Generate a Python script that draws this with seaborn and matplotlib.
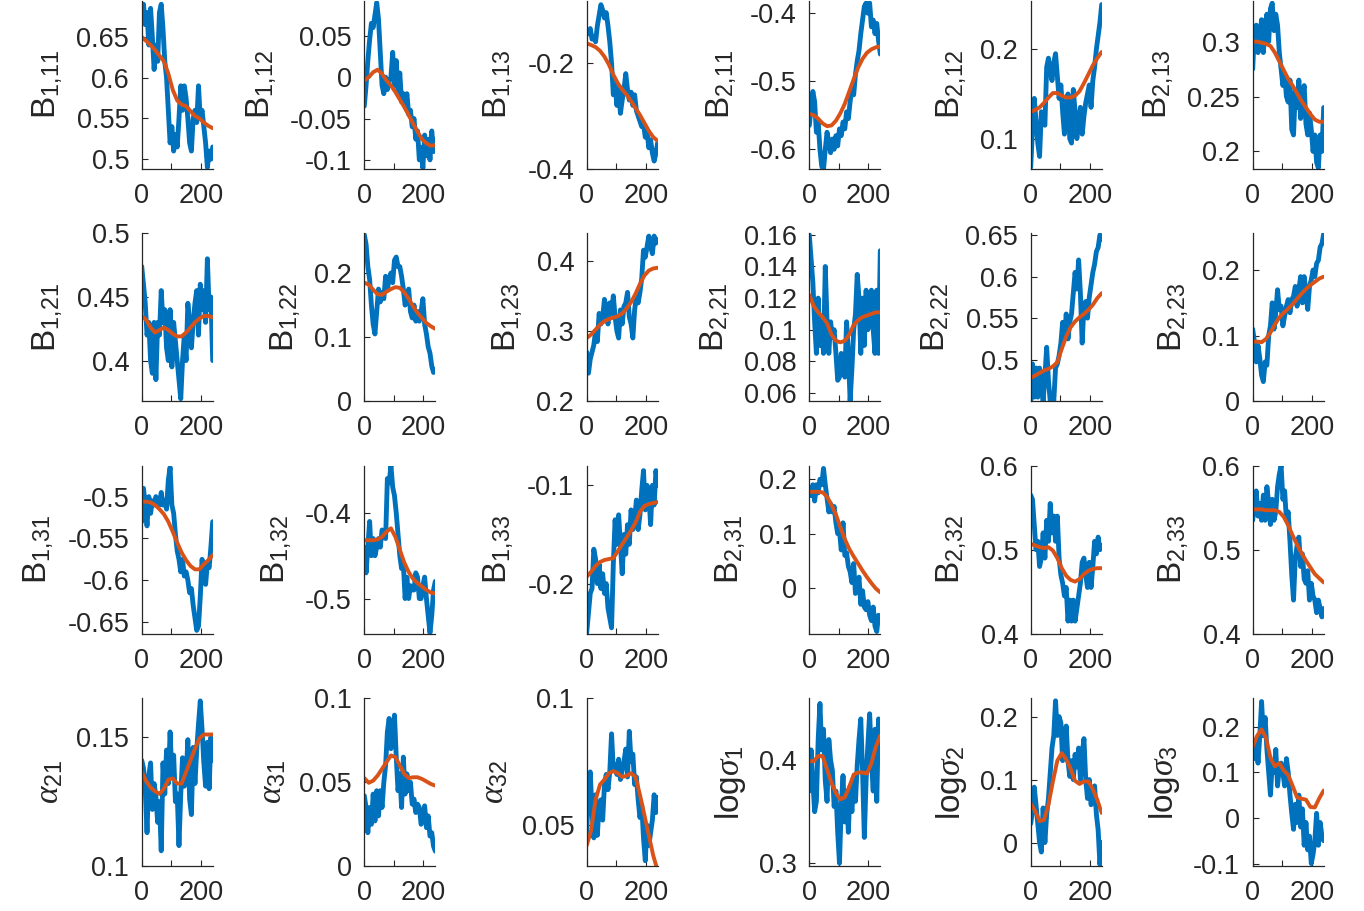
import matplotlib
matplotlib.use('Agg')
import matplotlib.pyplot as plt
import seaborn as sns

# ---------------- data ----------------
x_est = list(range(0, 241, 6))      # 41 samples of the noisy (blue) series
x_smooth = list(range(0, 241, 15))  # 17 samples of the smooth (orange) series

labels = [r'$\mathrm{B}_{1{,}11}$', r'$\mathrm{B}_{1{,}12}$', r'$\mathrm{B}_{1{,}13}$',
          r'$\mathrm{B}_{2{,}11}$', r'$\mathrm{B}_{2{,}12}$', r'$\mathrm{B}_{2{,}13}$',
          r'$\mathrm{B}_{1{,}21}$', r'$\mathrm{B}_{1{,}22}$', r'$\mathrm{B}_{1{,}23}$',
          r'$\mathrm{B}_{2{,}21}$', r'$\mathrm{B}_{2{,}22}$', r'$\mathrm{B}_{2{,}23}$',
          r'$\mathrm{B}_{1{,}31}$', r'$\mathrm{B}_{1{,}32}$', r'$\mathrm{B}_{1{,}33}$',
          r'$\mathrm{B}_{2{,}31}$', r'$\mathrm{B}_{2{,}32}$', r'$\mathrm{B}_{2{,}33}$',
          r'$\alpha_{21}$', r'$\alpha_{31}$', r'$\alpha_{32}$',
          r'$\mathrm{log}\sigma_1$', r'$\mathrm{log}\sigma_2$', r'$\mathrm{log}\sigma_3$']

ylims = [(0.488, 0.694), (-0.111, 0.092), (-0.4, -0.083), (-0.629, -0.382), (0.066, 0.254), (0.184, 0.337),
         (0.368, 0.5), (0.0, 0.262), (0.2, 0.439), (0.0547, 0.161), (0.45, 0.652), (0.0, 0.256),
         (-0.664, -0.463), (-0.541, -0.345), (-0.251, -0.080), (-0.084, 0.225), (0.4, 0.6), (0.4, 0.6),
         (0.1, 0.165), (0.0, 0.1), (0.0338, 0.1), (0.297, 0.46), (-0.0377, 0.229), (-0.106, 0.262)]

yticks = [[0.5, 0.55, 0.6, 0.65], [-0.1, -0.05, 0, 0.05], [-0.4, -0.2], [-0.6, -0.5, -0.4], [0.1, 0.2], [0.2, 0.25, 0.3],
          [0.4, 0.45, 0.5], [0, 0.1, 0.2], [0.2, 0.3, 0.4], [0.06, 0.08, 0.1, 0.12, 0.14, 0.16], [0.5, 0.55, 0.6, 0.65], [0, 0.1, 0.2],
          [-0.65, -0.6, -0.55, -0.5], [-0.5, -0.4], [-0.2, -0.1], [0, 0.1, 0.2], [0.4, 0.5, 0.6], [0.4, 0.5, 0.6],
          [0.1, 0.15], [0, 0.05, 0.1], [0.05, 0.1], [0.3, 0.4], [0, 0.1, 0.2], [-0.1, 0, 0.1, 0.2]]

xticks = [0, 100, 200]
xticklabels = ['0', '', '200']

est_B1_11 = [0.68, 0.69, 0.665, 0.68, 0.64, 0.685, 0.65, 0.61, 0.64, 0.62, 0.68, 0.69, 0.66, 0.62, 0.60, 0.56, 0.52, 0.54, 0.51, 0.53, 0.515,
             0.55, 0.59, 0.56, 0.59, 0.575, 0.55, 0.52, 0.51, 0.55, 0.56, 0.545, 0.59, 0.55, 0.56, 0.54, 0.52, 0.49, 0.51, 0.50, 0.515]
smo_B1_11 = [0.650, 0.645, 0.640, 0.634, 0.627, 0.620, 0.605, 0.585, 0.572, 0.567, 0.565, 0.559, 0.553, 0.550, 0.545, 0.541, 0.538]

est_B1_12 = [-0.035, -0.01, 0.02, 0.045, 0.065, 0.06, 0.075, 0.09, 0.07, 0.03, -0.01, -0.02, 0.0, -0.015, -0.005, 0.0, 0.03, -0.01, 0.02, -0.02, 0.005,
             -0.03, -0.02, -0.035, -0.02, -0.045, -0.04, -0.06, -0.05, -0.075, -0.065, -0.1, -0.085, -0.11, -0.07, -0.095, -0.075, -0.1, -0.065, -0.09, -0.075]
smo_B1_12 = [-0.004, 0.0, 0.006, 0.009, 0.004, -0.004, -0.01, -0.018, -0.027, -0.036, -0.046, -0.056, -0.066, -0.075, -0.08, -0.083, -0.082]

est_B1_13 = [-0.14, -0.145, -0.135, -0.155, -0.15, -0.16, -0.13, -0.11, -0.09, -0.1, -0.115, -0.105, -0.13, -0.16, -0.2, -0.26, -0.24, -0.28, -0.25, -0.295, -0.27,
             -0.25, -0.22, -0.25, -0.27, -0.255, -0.28, -0.26, -0.29, -0.3, -0.31, -0.32, -0.315, -0.34, -0.33, -0.36, -0.345, -0.37, -0.385, -0.37, -0.35]
smo_B1_13 = [-0.163, -0.166, -0.17, -0.177, -0.188, -0.203, -0.222, -0.238, -0.25, -0.26, -0.272, -0.285, -0.298, -0.313, -0.328, -0.34, -0.347]

est_B2_11 = [-0.565, -0.54, -0.515, -0.53, -0.575, -0.56, -0.6, -0.625, -0.63, -0.6, -0.575, -0.59, -0.605, -0.585, -0.6, -0.58, -0.595, -0.57, -0.58, -0.56, -0.57,
             -0.545, -0.555, -0.53, -0.51, -0.52, -0.49, -0.47, -0.455, -0.43, -0.41, -0.39, -0.385, -0.4, -0.385, -0.42, -0.41, -0.43, -0.415, -0.44, -0.46]
smo_B2_11 = [-0.548, -0.55, -0.555, -0.562, -0.566, -0.565, -0.558, -0.547, -0.533, -0.515, -0.497, -0.48, -0.467, -0.458, -0.453, -0.45, -0.449]

est_B2_12 = [0.068, 0.11, 0.145, 0.12, 0.095, 0.08, 0.13, 0.12, 0.115, 0.18, 0.19, 0.175, 0.165, 0.185, 0.195, 0.17, 0.145, 0.16, 0.13, 0.105, 0.14,
             0.15, 0.1, 0.095, 0.155, 0.13, 0.1, 0.12, 0.135, 0.105, 0.125, 0.14, 0.15, 0.16, 0.135, 0.165, 0.18, 0.2, 0.215, 0.23, 0.25]
smo_B2_12 = [0.13, 0.132, 0.135, 0.14, 0.146, 0.151, 0.151, 0.148, 0.146, 0.146, 0.148, 0.153, 0.162, 0.172, 0.182, 0.19, 0.197]

est_B2_13 = [0.275, 0.31, 0.315, 0.29, 0.305, 0.32, 0.29, 0.315, 0.325, 0.3, 0.33, 0.335, 0.31, 0.325, 0.315, 0.29, 0.275, 0.26, 0.27, 0.25, 0.245,
             0.265, 0.22, 0.215, 0.255, 0.24, 0.265, 0.23, 0.25, 0.26, 0.225, 0.215, 0.235, 0.22, 0.2, 0.215, 0.19, 0.185, 0.215, 0.2, 0.24]
smo_B2_13 = [0.30, 0.30, 0.299, 0.298, 0.296, 0.29, 0.282, 0.274, 0.266, 0.26, 0.253, 0.246, 0.24, 0.234, 0.229, 0.227, 0.227]

est_B1_21 = [0.474, 0.46, 0.445, 0.42, 0.43, 0.40, 0.39, 0.43, 0.385, 0.43, 0.42, 0.455, 0.43, 0.44, 0.41, 0.40, 0.44, 0.395, 0.43, 0.415, 0.40,
             0.385, 0.37, 0.40, 0.42, 0.40, 0.445, 0.43, 0.41, 0.43, 0.445, 0.455, 0.42, 0.46, 0.44, 0.455, 0.43, 0.48, 0.44, 0.45, 0.40]
smo_B1_21 = [0.435, 0.432, 0.426, 0.422, 0.424, 0.426, 0.424, 0.421, 0.419, 0.419, 0.422, 0.426, 0.43, 0.433, 0.435, 0.435, 0.434]

est_B1_22 = [0.26, 0.245, 0.21, 0.19, 0.15, 0.12, 0.105, 0.14, 0.175, 0.155, 0.17, 0.16, 0.195, 0.175, 0.19, 0.2, 0.185, 0.22, 0.225, 0.21, 0.21,
             0.195, 0.175, 0.15, 0.165, 0.175, 0.14, 0.13, 0.15, 0.125, 0.14, 0.125, 0.14, 0.16, 0.12, 0.105, 0.085, 0.075, 0.055, 0.045, 0.05]
smo_B1_22 = [0.185, 0.182, 0.174, 0.167, 0.166, 0.171, 0.175, 0.178, 0.177, 0.17, 0.16, 0.148, 0.138, 0.13, 0.122, 0.117, 0.113]

est_B1_23 = [0.27, 0.24, 0.26, 0.27, 0.28, 0.30, 0.285, 0.325, 0.31, 0.32, 0.345, 0.33, 0.31, 0.34, 0.325, 0.35, 0.32, 0.30, 0.29, 0.33, 0.31,
             0.335, 0.34, 0.355, 0.32, 0.31, 0.29, 0.33, 0.35, 0.34, 0.355, 0.375, 0.415, 0.405, 0.42, 0.435, 0.42, 0.41, 0.435, 0.425, 0.43]
smo_B1_23 = [0.29, 0.295, 0.302, 0.309, 0.314, 0.317, 0.319, 0.321, 0.325, 0.332, 0.341, 0.353, 0.367, 0.379, 0.386, 0.389, 0.39]

est_B2_21 = [0.16, 0.145, 0.13, 0.105, 0.085, 0.12, 0.09, 0.105, 0.085, 0.14, 0.105, 0.085, 0.105, 0.095, 0.1, 0.085, 0.068, 0.07, 0.085, 0.075, 0.07,
             0.105, 0.085, 0.055, 0.075, 0.1, 0.11, 0.135, 0.12, 0.085, 0.12, 0.09, 0.125, 0.1, 0.12, 0.125, 0.1, 0.085, 0.125, 0.085, 0.15]
smo_B2_21 = [0.122, 0.115, 0.111, 0.108, 0.104, 0.097, 0.093, 0.092, 0.093, 0.097, 0.103, 0.106, 0.108, 0.109, 0.11, 0.111, 0.111]

est_B2_22 = [0.45, 0.495, 0.455, 0.49, 0.455, 0.49, 0.47, 0.45, 0.48, 0.515, 0.475, 0.45, 0.455, 0.45, 0.49, 0.495, 0.505, 0.52, 0.545, 0.525, 0.555,
             0.525, 0.545, 0.555, 0.58, 0.605, 0.585, 0.62, 0.58, 0.52, 0.565, 0.57, 0.55, 0.575, 0.59, 0.605, 0.615, 0.63, 0.635, 0.65, 0.645]
smo_B2_22 = [0.478, 0.481, 0.484, 0.487, 0.489, 0.492, 0.497, 0.513, 0.528, 0.539, 0.546, 0.551, 0.555, 0.56, 0.566, 0.574, 0.58]

est_B2_23 = [0.11, 0.09, 0.06, 0.085, 0.065, 0.04, 0.03, 0.06, 0.055, 0.1, 0.115, 0.15, 0.11, 0.135, 0.17, 0.14, 0.145, 0.115, 0.13, 0.145, 0.155,
             0.135, 0.155, 0.16, 0.175, 0.145, 0.17, 0.19, 0.15, 0.19, 0.165, 0.14, 0.175, 0.185, 0.2, 0.19, 0.21, 0.215, 0.235, 0.24, 0.255]
smo_B2_23 = [0.091, 0.091, 0.09, 0.095, 0.105, 0.117, 0.128, 0.135, 0.141, 0.148, 0.156, 0.164, 0.171, 0.177, 0.182, 0.187, 0.19]

est_B1_31 = [-0.53, -0.49, -0.51, -0.535, -0.50, -0.52, -0.505, -0.51, -0.50, -0.505, -0.51, -0.495, -0.51, -0.505, -0.515, -0.48, -0.465, -0.51, -0.52, -0.545, -0.565,
             -0.575, -0.59, -0.575, -0.595, -0.59, -0.6, -0.615, -0.61, -0.63, -0.645, -0.66, -0.655, -0.62, -0.575, -0.59, -0.605, -0.58, -0.585, -0.56, -0.53]
smo_B1_31 = [-0.506, -0.506, -0.507, -0.51, -0.515, -0.521, -0.53, -0.542, -0.555, -0.567, -0.576, -0.583, -0.587, -0.587, -0.581, -0.576, -0.57]

est_B1_32 = [-0.44, -0.47, -0.44, -0.41, -0.45, -0.43, -0.45, -0.44, -0.43, -0.44, -0.42, -0.425, -0.43, -0.36, -0.365, -0.345, -0.37, -0.38, -0.4, -0.425, -0.45,
             -0.465, -0.46, -0.5, -0.475, -0.5, -0.485, -0.49, -0.49, -0.47, -0.475, -0.5, -0.5, -0.485, -0.475, -0.5, -0.52, -0.54, -0.52, -0.49, -0.48]
smo_B1_32 = [-0.432, -0.432, -0.432, -0.431, -0.428, -0.422, -0.418, -0.428, -0.443, -0.458, -0.469, -0.477, -0.482, -0.486, -0.49, -0.493, -0.494]

est_B1_33 = [-0.25, -0.23, -0.21, -0.205, -0.165, -0.175, -0.2, -0.18, -0.205, -0.19, -0.21, -0.2, -0.225, -0.235, -0.245, -0.18, -0.135, -0.16, -0.13, -0.16, -0.19,
             -0.15, -0.17, -0.14, -0.16, -0.125, -0.145, -0.135, -0.115, -0.145, -0.13, -0.105, -0.085, -0.125, -0.1, -0.11, -0.14, -0.1, -0.12, -0.085, -0.1]
smo_B1_33 = [-0.193, -0.188, -0.182, -0.178, -0.176, -0.175, -0.174, -0.167, -0.16, -0.153, -0.146, -0.138, -0.127, -0.121, -0.119, -0.118, -0.117]

est_B2_31 = [0.185, 0.17, 0.19, 0.16, 0.19, 0.175, 0.2, 0.19, 0.22, 0.19, 0.165, 0.14, 0.155, 0.14, 0.15, 0.12, 0.1, 0.105, 0.07, 0.12, 0.06,
             0.065, 0.04, 0.03, 0.01, 0.045, -0.01, 0.0, 0.02, -0.03, -0.005, -0.035, -0.04, -0.025, -0.05, -0.06, -0.035, -0.07, -0.08, -0.05, -0.055]
smo_B2_31 = [0.177, 0.177, 0.177, 0.176, 0.168, 0.153, 0.135, 0.112, 0.09, 0.072, 0.058, 0.045, 0.032, 0.02, 0.009, -0.001, -0.008]

est_B2_32 = [0.565, 0.56, 0.53, 0.5, 0.51, 0.48, 0.49, 0.52, 0.49, 0.535, 0.51, 0.555, 0.52, 0.54, 0.51, 0.54, 0.49, 0.47, 0.46, 0.445, 0.455,
             0.415, 0.44, 0.415, 0.44, 0.415, 0.43, 0.445, 0.46, 0.485, 0.49, 0.47, 0.455, 0.485, 0.455, 0.48, 0.51, 0.495, 0.515, 0.5, 0.505]
smo_B2_32 = [0.507, 0.505, 0.503, 0.502, 0.503, 0.499, 0.49, 0.478, 0.469, 0.464, 0.462, 0.465, 0.471, 0.475, 0.477, 0.478, 0.478]

est_B2_33 = [0.535, 0.555, 0.57, 0.54, 0.555, 0.535, 0.565, 0.535, 0.575, 0.555, 0.53, 0.56, 0.535, 0.545, 0.575, 0.59, 0.6, 0.56, 0.57, 0.535, 0.545,
             0.51, 0.47, 0.44, 0.49, 0.505, 0.515, 0.48, 0.495, 0.465, 0.46, 0.475, 0.44, 0.46, 0.445, 0.44, 0.425, 0.44, 0.43, 0.42, 0.43]
smo_B2_33 = [0.548, 0.548, 0.548, 0.547, 0.547, 0.547, 0.545, 0.539, 0.529, 0.517, 0.506, 0.496, 0.487, 0.479, 0.471, 0.466, 0.461]

est_a21 = [0.141, 0.138, 0.13, 0.113, 0.135, 0.14, 0.122, 0.132, 0.127, 0.117, 0.125, 0.106, 0.14, 0.128, 0.145, 0.132, 0.152, 0.135, 0.143, 0.125, 0.128,
           0.108, 0.128, 0.142, 0.131, 0.134, 0.149, 0.126, 0.12, 0.146, 0.132, 0.145, 0.155, 0.164, 0.153, 0.14, 0.131, 0.148, 0.13, 0.15, 0.141]
smo_a21 = [0.1365, 0.133, 0.1305, 0.129, 0.128, 0.13, 0.1335, 0.134, 0.132, 0.132, 0.1365, 0.141, 0.1455, 0.1495, 0.151, 0.151, 0.151]

est_a31 = [0.042, 0.035, 0.02, 0.035, 0.025, 0.043, 0.027, 0.045, 0.03, 0.045, 0.035, 0.05, 0.06, 0.08, 0.088, 0.07, 0.075, 0.09, 0.065, 0.045, 0.055,
           0.035, 0.065, 0.043, 0.055, 0.045, 0.05, 0.037, 0.04, 0.032, 0.037, 0.035, 0.025, 0.028, 0.036, 0.023, 0.03, 0.018, 0.02, 0.012, 0.009]
smo_a31 = [0.0525, 0.0497, 0.051, 0.054, 0.058, 0.062, 0.066, 0.065, 0.06, 0.055, 0.0525, 0.053, 0.053, 0.052, 0.0505, 0.049, 0.048]

est_a32 = [0.047, 0.065, 0.071, 0.055, 0.045, 0.062, 0.046, 0.058, 0.06, 0.052, 0.066, 0.07, 0.064, 0.071, 0.086, 0.072, 0.074, 0.07, 0.076, 0.068, 0.072,
           0.075, 0.08, 0.069, 0.087, 0.075, 0.078, 0.066, 0.069, 0.06, 0.053, 0.058, 0.045, 0.036, 0.05, 0.042, 0.047, 0.052, 0.062, 0.055, 0.061]
smo_a32 = [0.042, 0.048, 0.06, 0.066, 0.068, 0.0705, 0.0713, 0.0705, 0.069, 0.0695, 0.0705, 0.069, 0.062, 0.054, 0.046, 0.038, 0.032]

est_ls1 = [0.37, 0.41, 0.38, 0.35, 0.36, 0.42, 0.455, 0.41, 0.43, 0.38, 0.36, 0.42, 0.4, 0.39, 0.355, 0.37, 0.33, 0.3, 0.355, 0.385, 0.34,
           0.37, 0.33, 0.375, 0.35, 0.38, 0.36, 0.395, 0.42, 0.44, 0.39, 0.325, 0.38, 0.415, 0.445, 0.4, 0.37, 0.43, 0.36, 0.44, 0.42]
smo_ls1 = [0.399, 0.399, 0.404, 0.404, 0.391, 0.378, 0.368, 0.362, 0.364, 0.374, 0.386, 0.388, 0.388, 0.387, 0.397, 0.413, 0.424]

est_ls2 = [0.03, 0.05, 0.088, 0.06, 0.03, 0.0, -0.015, 0.055, 0.0, 0.045, 0.07, 0.11, 0.15, 0.17, 0.225, 0.17, 0.2, 0.19, 0.13, 0.16, 0.185,
           0.13, 0.105, 0.13, 0.1, 0.14, 0.12, 0.15, 0.1, 0.14, 0.165, 0.1, 0.07, 0.1, 0.06, 0.07, 0.09, 0.045, 0.02, -0.035, 0.0]
smo_ls2 = [0.062, 0.05, 0.034, 0.036, 0.06, 0.097, 0.13, 0.142, 0.132, 0.117, 0.098, 0.093, 0.097, 0.097, 0.085, 0.068, 0.047]

est_ls3 = [0.16, 0.13, 0.17, 0.12, 0.18, 0.255, 0.18, 0.22, 0.15, 0.1, 0.05, 0.12, 0.1, 0.15, 0.07, 0.11, 0.12, 0.1, 0.07, 0.13, 0.1,
           0.05, 0.01, -0.025, 0.03, -0.01, 0.05, -0.02, 0.02, -0.06, -0.01, -0.07, -0.04, -0.1, -0.08, -0.05, 0.01, -0.06, -0.01, -0.04, -0.05]
smo_ls3 = [0.156, 0.18, 0.194, 0.175, 0.132, 0.113, 0.12, 0.104, 0.094, 0.07, 0.045, 0.042, 0.04, 0.024, 0.023, 0.043, 0.06]

est = [est_B1_11, est_B1_12, est_B1_13, est_B2_11, est_B2_12, est_B2_13,
       est_B1_21, est_B1_22, est_B1_23, est_B2_21, est_B2_22, est_B2_23,
       est_B1_31, est_B1_32, est_B1_33, est_B2_31, est_B2_32, est_B2_33,
       est_a21, est_a31, est_a32, est_ls1, est_ls2, est_ls3]
smooth = [smo_B1_11, smo_B1_12, smo_B1_13, smo_B2_11, smo_B2_12, smo_B2_13,
          smo_B1_21, smo_B1_22, smo_B1_23, smo_B2_21, smo_B2_22, smo_B2_23,
          smo_B1_31, smo_B1_32, smo_B1_33, smo_B2_31, smo_B2_32, smo_B2_33,
          smo_a21, smo_a31, smo_a32, smo_ls1, smo_ls2, smo_ls3]

# ---------------- style ----------------
sns.set_style('ticks')
plt.rcParams['font.family'] = ['Liberation Sans', 'DejaVu Sans']
plt.rcParams['mathtext.fontset'] = 'custom'
plt.rcParams['mathtext.rm'] = 'Liberation Sans'
plt.rcParams['mathtext.it'] = 'Liberation Serif:italic'
plt.rcParams['mathtext.bf'] = 'Liberation Sans:bold'
plt.rcParams['axes.unicode_minus'] = False

BLUE = '#0072BD'
ORANGE = '#D95319'
INK = '#262626'

W, H = 1364, 911
fig = plt.figure(figsize=(W / 100, H / 100), dpi=100)
fig.patch.set_facecolor('white')

lefts = [141.7, 364.3, 586.7, 809.3, 1030.7, 1252.7]
tops = [1.0, 233.3, 465.7, 698.3]
aw, ah = 71.0, 168.0

for i in range(24):
    r, c = divmod(i, 6)
    ax = fig.add_axes([lefts[c] / W, 1 - (tops[r] + ah) / H, aw / W, ah / H])
    sns.lineplot(x=x_est, y=est[i], ax=ax, color=BLUE, linewidth=3.5,
                 solid_joinstyle='round', solid_capstyle='round')
    sns.lineplot(x=x_smooth, y=smooth[i], ax=ax, color=ORANGE, linewidth=2.8,
                 solid_joinstyle='round', solid_capstyle='round')
    ax.set_xlim(0, 240)
    ax.set_ylim(*ylims[i])
    ax.set_xticks(xticks)
    ax.set_xticklabels(xticklabels)
    ax.set_yticks(yticks[i])
    ax.set_yticklabels([f'{v:g}' for v in yticks[i]])
    ax.tick_params(direction='in', length=4, width=0.8, labelsize=19.5,
                   colors=INK, labelcolor=INK)
    ax.tick_params(axis='x', pad=10)
    ax.tick_params(axis='y', pad=9)
    ax.set_xlabel('')
    ax.set_ylabel(labels[i], fontsize=24, color=INK, labelpad=8)
    for s in ('left', 'bottom'):
        ax.spines[s].set_color(INK)
        ax.spines[s].set_linewidth(0.9)
    sns.despine(ax=ax)

fig.savefig('out.png', dpi=100, facecolor='white')
